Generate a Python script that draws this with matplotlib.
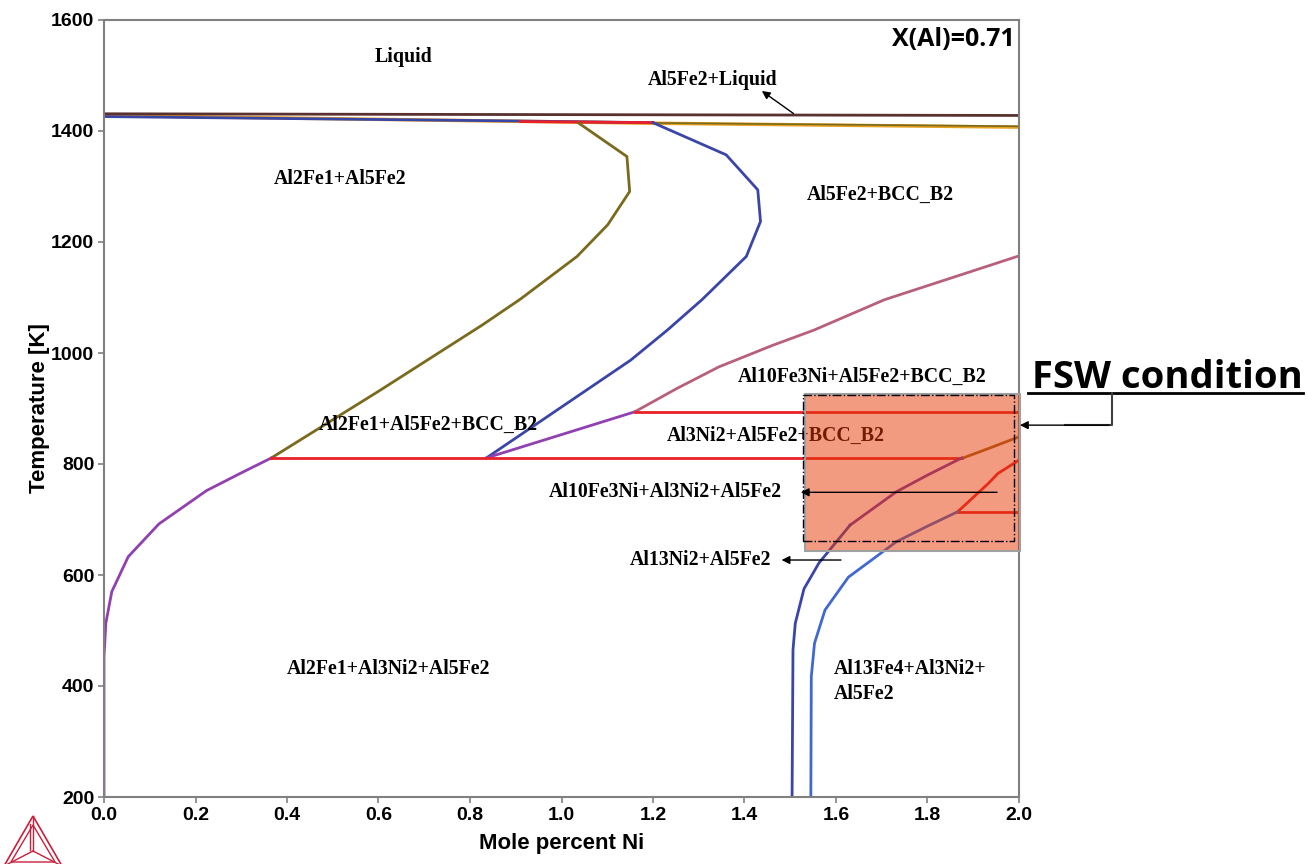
import matplotlib
matplotlib.use('Agg')
import matplotlib.pyplot as plt
from matplotlib.patches import Rectangle, Polygon
from matplotlib.lines import Line2D

# --- data (x = mole percent Ni, T in K) ---
liq_top_x = [0.0, 2.0]
liq_top_T = [1431, 1428]
gold_x = [0.0, 1.2, 2.0]
gold_T = [1428, 1414, 1407]
blue_liq_x = [0.0, 0.91, 1.2]
blue_liq_T = [1426, 1418, 1415]
red_liq_x = [0.91, 1.2]
red_liq_T = [1417, 1415]
olive_liq_x = [1.2, 2.0]
olive_liq_T = [1414.5, 1408.5]

olive_x = [1.038, 1.143, 1.149, 1.101, 1.034, 0.910, 0.826, 0.60, 0.366]
olive_T = [1414, 1354, 1291, 1231, 1174, 1097, 1050, 931, 811]

blue_mid_x = [1.20, 1.360, 1.429, 1.435, 1.404, 1.307, 1.231, 1.151, 0.836]
blue_mid_T = [1415, 1357, 1294, 1237, 1174, 1096, 1041, 987, 811]

purple_left_x = [0.366, 0.30, 0.224, 0.120, 0.053, 0.017, 0.004, 0.0, 0.0]
purple_left_T = [811, 784, 752, 692, 633, 570, 513, 453, 200]

purple_mid_x = [0.836, 1.008, 1.160]
purple_mid_T = [811, 855, 894]

mauve_x = [1.160, 1.252, 1.344, 1.462, 1.551, 1.706, 2.0]
mauve_T = [894, 936, 975, 1014, 1041, 1096, 1175]

# three-phase tie lines
tie_T = [811, 894, 714]
tie_x0 = [0.366, 1.160, 1.866]
tie_x1 = [1.875, 2.0, 2.0]

brown_box_x = [1.875, 1.94, 2.0]
brown_box_T = [810, 830, 849]

purple_low_x = [1.875, 1.80, 1.732, 1.631]
purple_low_T = [811, 780, 750, 690]
blue_low_x = [1.631, 1.563, 1.530, 1.511, 1.506, 1.504]
blue_low_T = [690, 622, 575, 513, 465, 200]

red_right_x = [2.0, 1.954, 1.933, 1.866]
red_right_T = [807, 783, 765, 714]
blue_right_x = [1.866, 1.80, 1.732, 1.627, 1.576, 1.553, 1.546, 1.545]
blue_right_T = [714, 688, 660, 596, 537, 477, 417, 200]

xticks = [0.0, 0.2, 0.4, 0.6, 0.8, 1.0, 1.2, 1.4, 1.6, 1.8, 2.0]
yticks = [200, 400, 600, 800, 1000, 1200, 1400, 1600]

c_olive = '#7A6A1E'
c_blue = '#3A45A8'
c_blue2 = '#4068D0'
c_purple = '#9040B0'
c_red = '#E8202A'
c_mauve = '#B8607A'
c_brown = '#5A3030'
c_gold = '#E8A020'

fig = plt.figure(figsize=(13.07, 8.64), dpi=100)
ax = fig.add_axes([104/1307, 1-797/864, 915/1307, 777/864])

lw = 2
ax.plot(gold_x, gold_T, color=c_gold, lw=lw+0.5)
ax.plot(olive_liq_x, olive_liq_T, color=c_olive, lw=1.2)
ax.plot(blue_liq_x, blue_liq_T, color=c_blue, lw=lw)
ax.plot(red_liq_x, red_liq_T, color=c_red, lw=lw)
ax.plot(liq_top_x, liq_top_T, color=c_brown, lw=lw)

ax.plot(olive_x, olive_T, color=c_olive, lw=lw)
ax.plot(blue_mid_x, blue_mid_T, color=c_blue, lw=lw)
ax.plot(purple_left_x, purple_left_T, color=c_purple, lw=lw)
ax.plot(purple_mid_x, purple_mid_T, color=c_purple, lw=lw)
ax.plot(mauve_x, mauve_T, color=c_mauve, lw=lw)
for T, a, b in zip(tie_T, tie_x0, tie_x1):
    ax.plot([a, b], [T, T], color=c_red, lw=lw)
ax.plot(brown_box_x, brown_box_T, color='#9A6A20', lw=lw)
ax.plot(purple_low_x, purple_low_T, color='#6A3AA8', lw=lw)
ax.plot(blue_low_x, blue_low_T, color=c_blue, lw=lw)
ax.plot(red_right_x, red_right_T, color=c_red, lw=lw)
ax.plot(blue_right_x, blue_right_T, color=c_blue2, lw=lw)

# FSW window
ax.add_patch(Rectangle((1.532, 644), 0.47, 282, facecolor=(0.90, 0.22, 0.02),
                       alpha=0.5, edgecolor='none', zorder=5, clip_on=False))
ax.add_patch(Rectangle((1.532, 644), 0.47, 282, facecolor='none',
                       edgecolor='#A0A0A0', lw=1.5, zorder=6, clip_on=False))
ax.add_patch(Rectangle((1.527, 661), 0.461, 263, facecolor='none',
                       edgecolor='black', lw=1, ls='-.', zorder=6))

ax.set_xlim(0, 2)
ax.set_ylim(200, 1600)
ax.set_xticks(xticks)
ax.set_yticks(yticks)
ax.set_xticklabels(['%.1f' % v for v in xticks])
for s in ax.spines.values():
    s.set_color('#808080')
    s.set_linewidth(1.5)
ax.tick_params(direction='out', length=4, width=1.2, color='#808080', labelsize=14, pad=3)
for lab in ax.get_xticklabels() + ax.get_yticklabels():
    lab.set_fontweight('bold')
    lab.set_family('Liberation Sans')
ax.set_xlabel('Mole percent Ni', fontsize=16, fontweight='bold', family='Liberation Sans', labelpad=7)
ax.set_ylabel('Temperature [K]', fontsize=16, fontweight='bold', family='Liberation Sans', labelpad=1)

serif = dict(family='Liberation Serif', fontweight='bold', fontsize=14.3, color='black')
ax.text(0.654, 1533, 'Liquid', ha='center', va='center', **serif)
ax.text(1.331, 1492, 'Al5Fe2+Liquid', ha='center', va='center', **serif)
ax.text(0.516, 1313, 'Al2Fe1+Al5Fe2', ha='center', va='center', **serif)
ax.text(1.698, 1285, 'Al5Fe2+BCC_B2', ha='center', va='center', **serif)
ax.text(1.657, 957, 'Al10Fe3Ni+Al5Fe2+BCC_B2', ha='center', va='center', **serif)
ax.text(0.708, 870, 'Al2Fe1+Al5Fe2+BCC_B2', ha='center', va='center', **serif)
ax.text(1.469, 850, 'Al3Ni2+Al5Fe2+BCC_B2', ha='center', va='center', zorder=4, **serif)
ax.text(1.228, 749, 'Al10Fe3Ni+Al3Ni2+Al5Fe2', ha='center', va='center', **serif)
ax.text(1.303, 627, 'Al13Ni2+Al5Fe2', ha='center', va='center', **serif)
ax.text(0.623, 431, 'Al2Fe1+Al3Ni2+Al5Fe2', ha='center', va='center', **serif)
ax.text(1.596, 408, 'Al13Fe4+Al3Ni2+\nAl5Fe2', ha='left', va='center', linespacing=1.35, **serif)

ax.text(1.99, 1564, 'X(Al)=0.71', ha='right', va='center', family='Open Sans',
        fontweight='bold', fontsize=18)

arrow = dict(arrowstyle='-|>', color='black', lw=1, mutation_scale=12)
ax.annotate('', xy=(1.433, 1475), xytext=(1.512, 1428.6), arrowprops=arrow)
ax.annotate('', xy=(1.517, 749), xytext=(1.958, 749), arrowprops=arrow, zorder=7)
ax.annotate('', xy=(1.475, 627), xytext=(1.617, 627), arrowprops=arrow)

# FSW condition callout outside the axes
ax.text(2.028, 937, 'FSW condition', ha='left', va='baseline', family='Open Sans',
        fontweight='bold', fontsize=27.5, clip_on=False)
ax.plot([2.02, 2.62], [928, 928], color='black', lw=2, clip_on=False)
ax.plot([2.203, 2.203, 2.1], [928, 870, 870], color='#404040', lw=1.5, clip_on=False)
ax.annotate('', xy=(1.996, 870), xytext=(2.203, 870), arrowprops=arrow,
            annotation_clip=False, zorder=7)

# Thermo-Calc style logo
def fp(x, y):
    return (x/1307, 1-y/864)

logo_col = '#C8203C'
A, B, C, P = fp(33, 816), fp(4, 866), fp(62, 866), fp(33, 851)
fig.add_artist(Polygon([A, B, C], closed=True, fill=False, edgecolor=logo_col, lw=1.2))
A2, B2, C2 = fp(33, 825), fp(11, 862), fp(55, 862)
fig.add_artist(Polygon([A2, B2, C2], closed=True, fill=False, edgecolor=logo_col, lw=1))
for q in (A, B, C):
    fig.add_artist(Line2D([q[0], P[0]], [q[1], P[1]], color=logo_col, lw=1))
fig.add_artist(Line2D([fp(30, 824)[0], fp(30, 850)[0]], [fp(30, 824)[1], fp(30, 850)[1]],
                      color=logo_col, lw=1))

fig.savefig('out.png', dpi=100)
